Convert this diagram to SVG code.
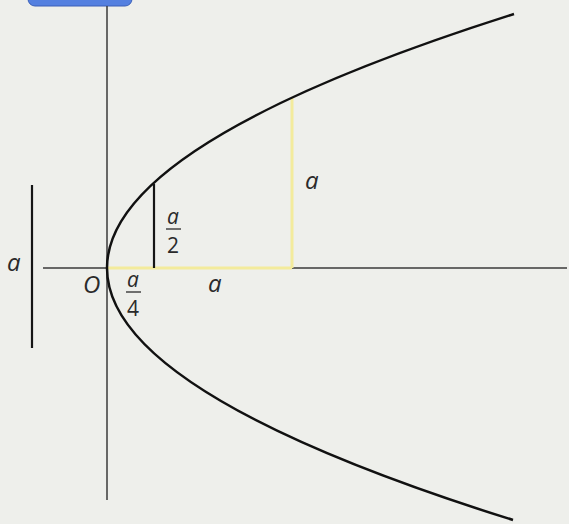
<svg xmlns="http://www.w3.org/2000/svg" width="569" height="524" viewBox="0 0 569 524">
<style>
.axis{stroke:#3a3a3a;stroke-width:1.5;fill:none}
.curve{stroke:#111;stroke-width:2.5;fill:none}
.seg{stroke:#151515;stroke-width:2.2;fill:none}
.hl{stroke:#f3eb9c;stroke-width:3;fill:none}
.bar{stroke:#444;stroke-width:1.5}
text{font-family:"Open Sans","Noto Sans",sans-serif;font-size:24px;fill:#2a2a2a}
text.fr{font-size:21px}
.it{font-style:italic}
</style>
<rect width="569" height="524" fill="#eeefeb"/>
<g id="badge"><rect x="28" y="-20" width="104" height="26" rx="7" fill="#5480e0" stroke="#3a5fb8" stroke-width="1"/></g>
<g id="axes">
<line class="axis" x1="107" y1="6" x2="107" y2="500"/>
<line class="axis" x1="43" y1="268" x2="567" y2="268"/>
</g>
<g id="highlight">
<line class="hl" x1="107" y1="268" x2="292" y2="268"/>
<line class="hl" x1="292" y1="268" x2="292" y2="98"/>
</g>
<g id="parabola">
<path class="curve" d="M514,14 Q107,143 107,268 Q107,393 513,520"/>
</g>
<g id="segments">
<line class="seg" x1="154" y1="268" x2="154" y2="184"/>
<line class="seg" x1="32" y1="185" x2="32" y2="348"/>
</g>
<g id="labels">
<text class="it" x="7" y="271">a</text>
<text class="it" x="83" y="293">O</text>
<g id="frac-a4">
<text class="fr it" x="127" y="287">a</text>
<line class="bar" x1="126" y1="292" x2="141" y2="292"/>
<text class="fr" x="127" y="316">4</text>
</g>
<g id="frac-a2">
<text class="fr it" x="167" y="224">a</text>
<line class="bar" x1="166" y1="229" x2="181" y2="229"/>
<text class="fr" x="167" y="253">2</text>
</g>
<text class="it" x="208" y="292">a</text>
<text class="it" x="305" y="189">a</text>
</g>
</svg>
